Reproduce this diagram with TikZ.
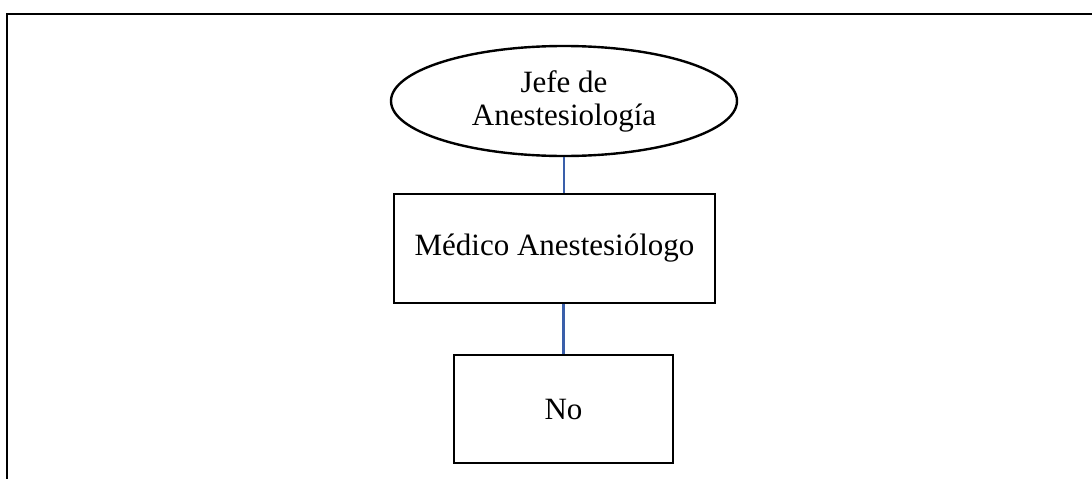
\documentclass[tikz,border=0pt]{standalone}
\usepackage{fontspec}
\setmainfont{Liberation Serif}
\usetikzlibrary{shapes.geometric}
\definecolor{linkblue}{RGB}{58,95,170}
\begin{document}
\begin{tikzpicture}[x=1pt,y=-1pt,
  every node/.style={font=\fontsize{31}{33}\selectfont, align=center, inner sep=0pt},
  role/.style={draw=black, line width=2.4pt, rectangle},
  head/.style={draw=black, line width=2.4pt, ellipse},
  conn/.style={draw=linkblue, line width=2.2pt}]
  \useasboundingbox (0,0) rectangle (1092,479);
  % open frame: left side and top
  \coordinate (fbl) at (7,479);
  \coordinate (ftl) at (7,14);
  \coordinate (ftr) at (1092,14);
  \draw[line width=2.6pt] (fbl) -- (ftl) -- (ftr);
  % chart
  \node[head, minimum width=346pt, minimum height=110pt] (e) at (564,101) {Jefe de\\Anestesiología};
  \node[role, minimum width=321pt, minimum height=109pt] (r1) at (554.5,248.5) {Médico Anestesiólogo};
  \node[role, minimum width=219pt, minimum height=108pt] (r2) at (563.5,409) {No};
  \draw[conn] (e.south) -- (e.south |- r1.north);
  \draw[conn] (r2.north |- r1.south) -- (r2.north);
\end{tikzpicture}
\end{document}
